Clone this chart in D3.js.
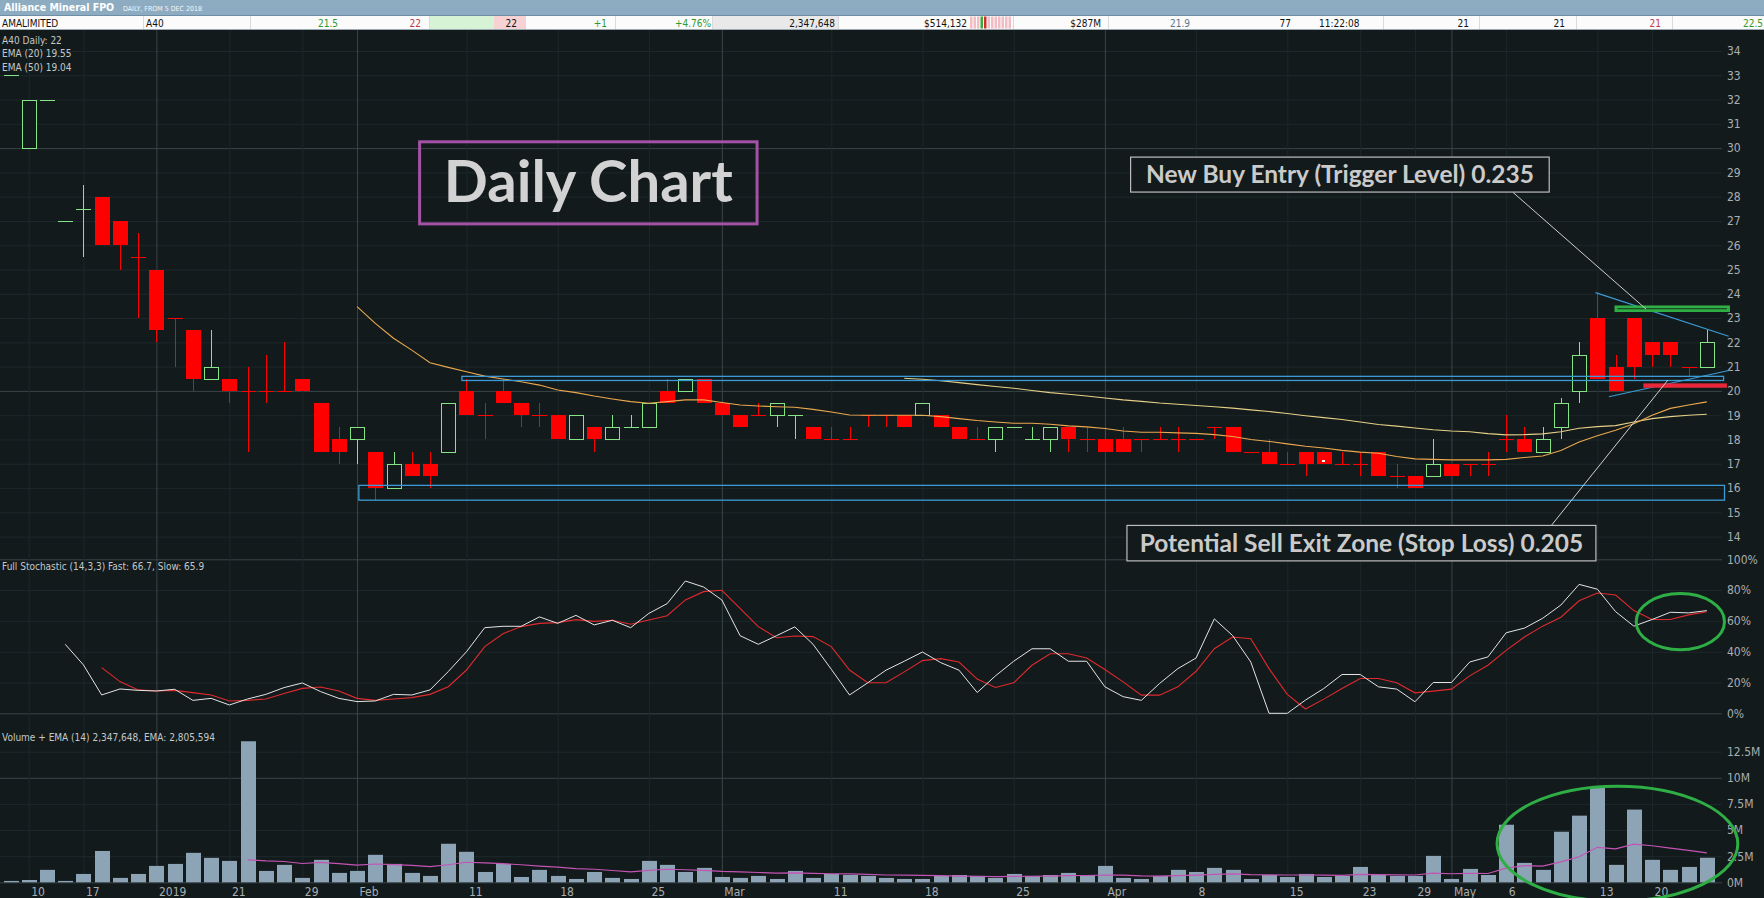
<!DOCTYPE html>
<html>
<head>
<meta charset="utf-8">
<title>Alliance Mineral FPO - Daily</title>
<script src="https://cdn.jsdelivr.net/npm/d3@7"></script>
<style>
  html, body { margin: 0; padding: 0; background: #121a1c; overflow: hidden; }
  svg { display: block; }
  text { font-family: 'DejaVu Sans Condensed', 'DejaVu Sans', sans-serif; }
</style>
</head>
<body>
<div id="chart"></div>
<script>
// bars are trading days with trades; index 0 = 7 Dec 2018 ... index 93 = 22 May 2019
const opens = [33, 30, 32, 27, 27.5, 28, 27, 25.5, 25, 23, 22.5, 20.5, 20.5, 20, 20, 20, 20.5, 19.5, 18, 18,
  17.5, 16, 17, 17, 17.5, 20, 19, 20, 19.5, 19, 19, 18, 18.5, 18, 18.5, 18.5, 20, 20, 20.5, 19.5,
  19, 19, 19, 19, 18.5, 18, 18, 19, 19, 19, 19, 19, 18.5, 18, 18, 18.5, 18, 18, 18.5, 18,
  18, 18, 18, 18, 18, 18, 18.5, 18.5, 17.5, 17.5, 17, 17.5, 17.5, 17, 17, 17.5, 16.5, 16.5, 16.5, 17,
  17, 17, 18, 18, 17.5, 18.5, 20, 23, 21, 23, 22, 22, 21, 21]
const highs = [33, 32, 32, 27, 28.5, 28, 27, 26.5, 25, 23, 22.5, 22.5, 20.5, 21, 21.5, 22, 20.5, 19.5, 18.5, 18.5,
  17.5, 17.5, 17.5, 17.5, 19.5, 20.5, 19.5, 20.5, 19.5, 19.5, 19, 19, 18.5, 19, 19, 19.5, 20.5, 20.5, 20.5, 19.5,
  19, 19.5, 19.5, 19, 18.5, 18.5, 18.5, 19, 19, 19, 19.5, 19, 18.5, 18.5, 18.5, 18.5, 18.5, 18.5, 18.5, 18.5,
  18.5, 18.5, 18, 18.5, 18.5, 18, 18.5, 18.5, 17.5, 18, 17.5, 17.5, 17.5, 17.5, 17.5, 17.5, 17, 16.5, 18, 17,
  17, 17.5, 19, 18.5, 18.5, 19.7, 22, 24, 21.5, 23, 22, 22, 21, 22.5]
const lows = [33, 30, 32, 27, 25.5, 26, 25, 23, 22, 21, 20, 20.5, 19.5, 17.5, 19.5, 20, 20, 17.5, 17, 17,
  15.5, 16, 16.5, 16, 17.5, 19, 18, 19.5, 18.5, 18.5, 18, 18, 17.5, 18, 18.5, 18.5, 19.5, 20, 19.5, 19,
  18.5, 19, 18.5, 18, 18, 18, 18, 18.5, 18.5, 18.5, 19, 18.5, 18, 18, 17.5, 18.5, 18, 17.5, 17.5, 17.5,
  17.5, 17.5, 17.5, 18, 17.5, 18, 18, 17.5, 17.5, 17, 17, 16.5, 17, 17, 16.5, 16.5, 16, 16, 16.5, 16.5,
  16.5, 16.5, 17.5, 17.5, 17.5, 18, 19.5, 20.5, 20, 20.5, 21, 21, 20.6, 21]
const closes = [33, 32, 32, 27, 27.5, 26, 26, 25.5, 22.5, 23, 20.5, 21, 20, 20, 20, 20, 20, 17.5, 17.5, 18.5,
  16, 17, 16.5, 16.5, 19.5, 19, 19, 19.5, 19, 19, 18, 19, 18, 18.5, 18.5, 19.5, 19.5, 20.5, 19.5, 19,
  18.5, 19, 19.5, 19, 18, 18, 18, 19, 19, 18.5, 19.5, 18.5, 18, 18, 18.5, 18.5, 18, 18.5, 18, 18,
  17.5, 17.5, 18, 18, 18, 18, 18.5, 17.5, 17.5, 17, 17, 17, 17, 17, 17, 16.5, 16.5, 16, 17, 16.5,
  17, 17, 18, 17.5, 18, 19.5, 21.5, 20.5, 20, 21, 21.5, 21.5, 21, 22]
// unchanged-price bars that are drawn green rather than red
const greenDoji = [0, 2, 3, 4, 34, 43, 55, 56]
const volumes = [0.13, 0.22, 1.19, 0.13, 0.8, 3.0, 0.42, 0.8, 1.57, 1.76, 2.82, 2.34, 2.05, 13.5, 1.09, 1.67, 0.42, 2.15, 0.9, 1.09,
  2.63, 1.76, 0.9, 0.61, 3.69, 2.92, 0.99, 1.76, 0.51, 1.19, 0.61, 0.32, 0.99, 0.42, 0.32, 2.05, 1.67, 0.99, 1.38, 0.51,
  0.42, 0.61, 0.32, 1.09, 0.42, 0.8, 0.7, 0.61, 0.42, 0.32, 0.32, 0.61, 0.7, 0.61, 0.42, 0.8, 0.61, 0.7, 0.9, 0.7,
  1.57, 0.42, 0.32, 0.61, 1.19, 0.99, 1.38, 1.19, 0.32, 0.7, 0.51, 0.8, 0.51, 0.61, 1.47, 0.7, 0.61, 0.61, 2.53, 0.32,
  1.28, 0.7, 5.51, 1.86, 1.19, 4.84, 6.38, 9.07, 1.67, 6.96, 2.15, 1.19, 1.47, 2.35]
const volEmaStart = 13
const volEma = [2.15, 2.05, 1.99, 1.8, 1.9, 1.78, 1.65, 1.75, 1.7, 1.62, 1.5, 1.68, 1.92, 1.85, 1.78, 1.68, 1.55,
  1.45, 1.3, 1.25, 1.13, 1.0, 1.15, 1.25, 1.2, 1.15, 1.05, 0.99, 0.94, 0.87, 0.9, 0.85, 0.82, 0.8, 0.76, 0.7,
  0.68, 0.66, 0.64, 0.6, 0.58, 0.55, 0.56, 0.58, 0.6, 0.63, 0.65, 0.7, 0.68, 0.62, 0.6, 0.64, 0.68, 0.75, 0.8,
  0.74, 0.72, 0.7, 0.7, 0.68, 0.66, 0.75, 0.74, 0.72, 0.7, 0.88, 0.82, 0.85, 0.84, 1.35, 1.6, 1.55, 1.95, 2.45,
  3.35, 3.2, 3.65, 3.5, 3.27, 3.05, 2.81]
const ema20Start = 19
const ema20 = [23.47, 22.78, 22.17, 21.68, 21.16, 20.97, 20.79, 20.61, 20.49, 20.38, 20.24, 20.04, 19.93, 19.79,
  19.67, 19.56, 19.49, 19.56, 19.63, 19.63, 19.52, 19.42, 19.38, 19.35, 19.33, 19.24, 19.13, 19.01, 19.0, 19.0,
  19.0, 19.0, 18.94, 18.86, 18.78, 18.72, 18.67, 18.67, 18.63, 18.56, 18.52, 18.45, 18.35, 18.3, 18.3, 18.27,
  18.25, 18.2, 18.12, 18.0, 17.92, 17.82, 17.72, 17.65, 17.55, 17.48, 17.43, 17.3, 17.2, 17.18, 17.16, 17.16,
  17.16, 17.18, 17.26, 17.32, 17.55, 17.9, 18.15, 18.38, 18.65, 19.0, 19.28, 19.42, 19.55]
const ema50Start = 49
const ema50 = [20.52, 20.48, 20.42, 20.34, 20.26, 20.18, 20.11, 20.02, 19.93, 19.86, 19.79, 19.71, 19.63, 19.57,
  19.5, 19.45, 19.4, 19.35, 19.29, 19.22, 19.15, 19.07, 18.98, 18.9, 18.82, 18.72, 18.62, 18.55, 18.47, 18.4,
  18.35, 18.32, 18.24, 18.19, 18.2, 18.23, 18.32, 18.46, 18.53, 18.57, 18.72, 18.86, 18.94, 19.0, 19.04]
const fastStart = 3
const stochFast = [44.8, 31.4, 11.9, 15.8, 14.9, 14.5, 15.6, 8.4, 9.7, 5.4, 9.3, 12.3, 16.7, 19.7, 14.1, 9.7, 7.6,
  8.0, 12.3, 11.9, 15.2, 27.1, 40.0, 55.6, 56.5, 56.5, 62.6, 58.4, 63.6, 57.4, 60.4, 55.6, 64.9, 71.2, 85.9, 82.0,
  73.6, 50.4, 44.8, 50.4, 56.1, 44.8, 28.6, 11.9, 19.8, 28.0, 33.8, 39.8, 32.9, 28.0, 13.5, 24.3, 33.8, 41.9, 41.9,
  33.8, 33.8, 17.2, 10.8, 8.4, 19.4, 29.0, 35.9, 61.3, 50.5, 33.3, 0, 0, 8.6, 16.1, 25.2, 25.2, 17.2, 15.7, 7.5,
  20.0, 20.0, 33.3, 36.6, 52.3, 55.3, 61.7, 70.3, 83.7, 80.6, 66.0, 56.6, 60.9, 65.6, 65.2, 66.7]
const slowStart = 5
const stochSlow = [29.7, 20.6, 15.2, 14.5, 14.9, 13.4, 11.9, 8.0, 8.4, 9.3, 12.8, 16.2, 17.1, 14.5, 9.7, 8.4, 9.3,
  10.2, 12.3, 17.3, 28.1, 43.3, 51.7, 56.3, 58.4, 58.9, 60.8, 59.7, 60.4, 57.8, 60.6, 63.4, 73.6, 79.0, 79.9, 68.2,
  56.3, 49.1, 50.2, 49.8, 43.3, 28.1, 19.8, 19.8, 26.9, 34.2, 35.5, 33.3, 22.2, 16.8, 19.8, 31.2, 38.7, 38.7, 35.9,
  28.4, 20.4, 11.8, 11.8, 17.2, 27.3, 41.9, 49.5, 48.4, 29.0, 12.3, 2.8, 9.2, 16.1, 22.6, 22.6, 19.8, 13.3, 14.4,
  15.7, 24.3, 31.2, 40.9, 49.5, 56.6, 62.4, 73.1, 78.1, 76.8, 66.7, 60.9, 60.9, 63.9, 65.9]
const tickBars = [1, 4, 8, 12, 16, 19, 25, 30, 35, 39, 45, 50, 55, 60, 65, 70, 74, 77, 79, 82, 87, 90]
const tickLabels = ['10', '17', '2019', '21', '29', 'Feb', '11', '18', '25', 'Mar', '11', '18', '25', 'Apr', '8',
  '15', '23', '29', 'May', '6', '13', '20']
const majorTicks = ['2019', 'Feb', 'Mar', 'Apr', 'May']
const priceTicks = [14, 15, 16, 17, 18, 19, 20, 21, 22, 23, 24, 25, 26, 27, 28, 29, 30, 31, 32, 33, 34]
const stochTicks = [0, 20, 40, 60, 80, 100]
const volTicks = [0, 2.5, 5, 7.5, 10, 12.5]
const legendLines = ['A40 Daily: 22', 'EMA (20) 19.55', 'EMA (50) 19.04']
const stochTitle = 'Full Stochastic (14,3,3) Fast: 66.7, Slow: 65.9'
const volTitle = 'Volume + EMA (14) 2,347,648, EMA: 2,805,594'
const quoteRow = [
  { text: 'AMALIMITED', x: 2, anchor: 'start', color: '#111' },
  { text: 'A40', x: 146, anchor: 'start', color: '#111' },
  { text: '21.5', x: 338, anchor: 'end', color: '#2f9a2f' },
  { text: '22', x: 421, anchor: 'end', color: '#c03a4a' },
  { text: '22', x: 517, anchor: 'end', color: '#111' },
  { text: '+1', x: 607, anchor: 'end', color: '#2f9a2f' },
  { text: '+4.76%', x: 711, anchor: 'end', color: '#2f9a2f' },
  { text: '2,347,648', x: 835, anchor: 'end', color: '#111' },
  { text: '$514,132', x: 967, anchor: 'end', color: '#111' },
  { text: '$287M', x: 1101, anchor: 'end', color: '#111' },
  { text: '21.9', x: 1190, anchor: 'end', color: '#5a7690' },
  { text: '77', x: 1291, anchor: 'end', color: '#111' },
  { text: '11:22:08', x: 1319, anchor: 'start', color: '#111' },
  { text: '21', x: 1469, anchor: 'end', color: '#111' },
  { text: '21', x: 1565, anchor: 'end', color: '#111' },
  { text: '21', x: 1661, anchor: 'end', color: '#c03a4a' },
  { text: '22.5', x: 1763, anchor: 'end', color: '#2f9a2f' }
]
const quoteSeparators = [143, 250, 429, 525, 615, 712, 838, 1013, 1108, 1383, 1479, 1576, 1672]
const quoteShades = [
  { x0: 429, x1: 494, fill: '#d6f3d6' },
  { x0: 494, x1: 525, fill: '#f6d2d4' },
  { x0: 712, x1: 838, fill: '#e9e9e9' }
]
const depthBars = ['p', 'p', 'p', 'g', 'r', 'p', 'p', 'p', 'p', 'p', 'p', 'p']

// drawn annotations, positioned in bar index / price units
const zones = [
  { i0: 24.75, i1: 93.92, p0: 20.43, p1: 20.6 },
  { i0: 19.1, i1: 93.97, p0: 15.5, p1: 16.11 }
]
const trendLines = [
  { i0: 86.9, p0: 24.05, i1: 94.2, p1: 22.25 },
  { i0: 87.63, p0: 19.76, i1: 94.27, p1: 20.85 }
]
const pointers = [
  { i0: 82.37, p0: 28.18, i1: 89.67, p1: 23.37 },
  { i0: 84.5, p0: 14.48, i1: 90.87, p1: 20.45 }
]
const buyLevel = { i0: 87.94, i1: 94.27, p0: 23.25, p1: 23.52 }
const stopLevel = { i0: 89.52, i1: 94.1, p0: 20.13, p1: 20.31 }
const notes = [
  { text: 'New Buy Entry (Trigger Level) 0.235', i0: 61.41, i1: 84.36, p0: 28.19, p1: 29.63 },
  { text: 'Potential Sell Exit Zone (Stop Loss) 0.205', i0: 61.21, i1: 86.92, p0: 13.0, p1: 14.46 }
]
const titleBox = { text: 'Daily Chart', i0: 22.43, i1: 40.93, p0: 26.88, p1: 30.26 }
const markers = [{ i: 72, p: 17.13 }]

const params = {
  width: 1764,
  height: 898,
  plotRight: 1722,
  top: 30,
  priceBottom: 559,
  bodyWidth: 15,
  bg: '#121a1c',
  gridDim: '#1d282b',
  gridMajor: '#3a4548',
  up: '#86e486',
  down: '#ff0000',
  axisText: '#a9aeb0'
}

function drawHeader(svg, { width }) {
  svg.append('rect').attr('width', width).attr('height', 15).attr('fill', '#8eacc1')
  svg.append('rect').attr('y', 15).attr('width', width).attr('height', 1).attr('fill', '#6d8ea6')
  svg.append('rect').attr('y', 16).attr('width', width).attr('height', 13.5).attr('fill', '#fbfbfb')
  svg.append('rect').attr('y', 29).attr('width', width).attr('height', 1).attr('fill', '#9aa9b2')

  svg.append('text')
    .attr('x', 4).attr('y', 11)
    .attr('fill', '#fff').attr('font-weight', 'bold').attr('font-size', 10.5)
    .text('Alliance Mineral FPO')
  svg.append('text')
    .attr('x', 123).attr('y', 10.5)
    .attr('fill', '#f2f6f8').attr('font-size', 7)
    .text('DAILY, FROM 5 DEC 2018')

  svg.append('g')
    .selectAll('rect')
    .data(quoteShades)
    .join('rect')
    .attr('x', d => d.x0).attr('y', 16)
    .attr('width', d => d.x1 - d.x0).attr('height', 13)
    .attr('fill', d => d.fill)

  svg.append('g')
    .selectAll('rect')
    .data(depthBars)
    .join('rect')
    .attr('x', (_, i) => 970 + i * 3.5).attr('y', 16.5)
    .attr('width', 2.5).attr('height', 12)
    .attr('fill', d => (d === 'g' ? '#3aa83a' : d === 'r' ? '#d03030' : '#f1bcc4'))

  svg.append('g')
    .attr('stroke', '#dadada')
    .selectAll('line')
    .data(quoteSeparators)
    .join('line')
    .attr('x1', d => d + 0.5).attr('x2', d => d + 0.5)
    .attr('y1', 16).attr('y2', 29)

  svg.append('g')
    .attr('font-size', 10)
    .selectAll('text')
    .data(quoteRow)
    .join('text')
    .attr('x', d => d.x).attr('y', 26.5)
    .attr('text-anchor', d => d.anchor)
    .attr('fill', d => d.color)
    .text(d => d.text)
}

function drawGrid(svg, scales, p) {
  const { x, yPrice, yStoch, yVol } = scales
  const right = g => g.select('.domain').remove()

  const gridAxis = (scale, ticks, fmt, major) => g => {
    g.call(d3.axisRight(scale).tickValues(ticks).tickSize(p.plotRight).tickPadding(5).tickFormat(fmt))
      .call(right)
    g.selectAll('.tick line').attr('stroke', d => (major.includes(d) ? p.gridMajor : p.gridDim))
    g.selectAll('.tick text').attr('fill', p.axisText).attr('font-size', 12)
  }

  svg.append('g').call(gridAxis(yPrice, priceTicks, d => d, [20, 30]))
  svg.append('g').call(gridAxis(yStoch, stochTicks, d => d + '%', [0, 100]))
  svg.append('g').call(gridAxis(yVol, volTicks, d => d + 'M', [0, 10]))

  const xAxis = g => {
    g.attr('transform', `translate(0, ${p.top})`)
      .call(d3.axisBottom(x).tickValues(tickBars).tickSize(852).tickPadding(5)
        .tickFormat((_, i) => tickLabels[i]))
      .call(right)
    g.selectAll('.tick line')
      .attr('stroke', (_, i) => (majorTicks.includes(tickLabels[i]) ? p.gridMajor : p.gridDim))
    g.selectAll('.tick text')
      .attr('fill', p.axisText).attr('font-size', 12)
      .attr('text-anchor', 'start').attr('dx', 2)
  }
  svg.append('g').call(xAxis)
}

function drawCandles(svg, scales, p) {
  const { x, yPrice } = scales
  const half = p.bodyWidth / 2
  const bars = opens.map((o, i) => ({ i, o, h: highs[i], l: lows[i], c: closes[i] }))
  const colorOf = d => (d.c > d.o || (d.c === d.o && greenDoji.includes(d.i)) ? p.up : p.down)
  const cx = d => Math.round(x(d.i)) + 0.5

  const g = svg.append('g').attr('clip-path', 'url(#price-clip)').attr('shape-rendering', 'crispEdges')

  g.append('g')
    .selectAll('line')
    .data(bars.filter(d => d.h > d.l))
    .join('line')
    .attr('x1', cx).attr('x2', cx)
    .attr('y1', d => yPrice(d.h)).attr('y2', d => yPrice(d.l))
    .attr('stroke', colorOf)

  g.append('g')
    .selectAll('line')
    .data(bars.filter(d => d.c === d.o))
    .join('line')
    .attr('x1', d => cx(d) - half).attr('x2', d => cx(d) + half)
    .attr('y1', d => Math.round(yPrice(d.c)) + 0.5).attr('y2', d => Math.round(yPrice(d.c)) + 0.5)
    .attr('stroke', colorOf)

  g.append('g')
    .selectAll('rect')
    .data(bars.filter(d => d.c < d.o))
    .join('rect')
    .attr('x', d => cx(d) - half).attr('width', p.bodyWidth)
    .attr('y', d => yPrice(d.o)).attr('height', d => yPrice(d.c) - yPrice(d.o))
    .attr('fill', p.down)

  g.append('g')
    .selectAll('rect')
    .data(bars.filter(d => d.c > d.o))
    .join('rect')
    .attr('x', d => cx(d) - half + 0.5).attr('width', p.bodyWidth - 1)
    .attr('y', d => Math.round(yPrice(d.c)) + 0.5)
    .attr('height', d => Math.round(yPrice(d.o)) - Math.round(yPrice(d.c)))
    .attr('fill', p.bg).attr('stroke', p.up)

  g.append('g')
    .selectAll('rect')
    .data(markers)
    .join('rect')
    .attr('x', d => x(d.i) - 1.5).attr('y', d => yPrice(d.p) - 1)
    .attr('width', 3).attr('height', 2)
    .attr('fill', '#fff')

  const ema = (values, start) => d3.line().x((_, i) => x(start + i)).y(d => yPrice(d))(values)
  g.append('path').attr('d', ema(ema50, ema50Start))
    .attr('fill', 'none').attr('stroke', '#e6cf86').attr('stroke-width', 1.1).attr('shape-rendering', 'auto')
  g.append('path').attr('d', ema(ema20, ema20Start))
    .attr('fill', 'none').attr('stroke', '#eba84e').attr('stroke-width', 1.1).attr('shape-rendering', 'auto')
}

function drawStochastic(svg, { x, yStoch }) {
  const line = start => d3.line().x((_, i) => x(start + i)).y(d => yStoch(d))
  svg.append('path').attr('d', line(slowStart)(stochSlow))
    .attr('fill', 'none').attr('stroke', '#e02a2e').attr('stroke-width', 1.1)
  svg.append('path').attr('d', line(fastStart)(stochFast))
    .attr('fill', 'none').attr('stroke', '#e4e4e4').attr('stroke-width', 1)
}

function drawVolume(svg, { x, yVol }, p) {
  svg.append('g')
    .attr('fill', '#8da3b6')
    .selectAll('rect')
    .data(volumes)
    .join('rect')
    .attr('x', (_, i) => Math.round(x(i)) - 7)
    .attr('width', p.bodyWidth)
    .attr('y', d => yVol(d))
    .attr('height', d => yVol(0) - yVol(d))

  svg.append('path')
    .attr('d', d3.line().x((_, i) => x(volEmaStart + i)).y(d => yVol(d))(volEma))
    .attr('fill', 'none').attr('stroke', '#c454b4').attr('stroke-width', 1.2)
}

function drawLegends(svg) {
  svg.append('g')
    .attr('fill', '#c4c8c9').attr('font-size', 10)
    .selectAll('text')
    .data(legendLines)
    .join('text')
    .attr('x', 2).attr('y', (_, i) => 44 + i * 13.3)
    .text(d => d)
  svg.append('text').attr('x', 2).attr('y', 570).attr('fill', '#c4c8c9').attr('font-size', 10).text(stochTitle)
  svg.append('text').attr('x', 2).attr('y', 741).attr('fill', '#c4c8c9').attr('font-size', 10).text(volTitle)
}

function drawAnnotations(svg, scales, p) {
  const { x, yPrice, yStoch, yVol } = scales
  const box = (g, d) =>
    g.attr('x', x(d.i0)).attr('width', x(d.i1) - x(d.i0))
      .attr('y', yPrice(d.p1)).attr('height', yPrice(d.p0) - yPrice(d.p1))

  svg.append('g')
    .selectAll('rect')
    .data(zones)
    .join('rect')
    .each(function(d) { d3.select(this).call(box, d) })
    .attr('fill', 'none').attr('stroke', '#3c9bd6').attr('stroke-width', 1.3)

  svg.append('g')
    .attr('stroke', '#3c9bd6').attr('stroke-width', 1.2)
    .selectAll('line')
    .data(trendLines)
    .join('line')
    .attr('x1', d => x(d.i0)).attr('y1', d => yPrice(d.p0))
    .attr('x2', d => x(d.i1)).attr('y2', d => yPrice(d.p1))

  svg.append('rect').call(box, buyLevel).attr('fill', '#2fae46')
  svg.append('line')
    .attr('x1', x(buyLevel.i0) + 3).attr('x2', x(buyLevel.i1) - 3)
    .attr('y1', yPrice((buyLevel.p0 + buyLevel.p1) / 2)).attr('y2', yPrice((buyLevel.p0 + buyLevel.p1) / 2))
    .attr('stroke', '#123018').attr('stroke-width', 1.2)
  svg.append('rect').call(box, stopLevel).attr('fill', '#e8283a')

  svg.append('g')
    .attr('stroke', '#cfcfcf').attr('stroke-width', 1)
    .selectAll('line')
    .data(pointers)
    .join('line')
    .attr('x1', d => x(d.i0)).attr('y1', d => yPrice(d.p0))
    .attr('x2', d => x(d.i1)).attr('y2', d => yPrice(d.p1))

  const noteG = svg.append('g')
    .selectAll('g')
    .data(notes)
    .join('g')
  noteG.append('rect')
    .each(function(d) { d3.select(this).call(box, d) })
    .attr('fill', p.bg).attr('stroke', '#bdbdbd').attr('stroke-width', 1.2)
  noteG.append('text')
    .attr('x', d => (x(d.i0) + x(d.i1)) / 2)
    .attr('y', d => (yPrice(d.p0) + yPrice(d.p1)) / 2 + 8.4)
    .attr('text-anchor', 'middle')
    .attr('fill', '#cacaca').attr('font-size', 24.5).attr('font-weight', 'bold')
    .style('font-family', 'Lato, "Open Sans", sans-serif')
    .text(d => d.text)

  svg.append('rect').call(box, titleBox)
    .attr('fill', 'none').attr('stroke', '#a452a6').attr('stroke-width', 3)
  svg.append('text')
    .attr('x', (x(titleBox.i0) + x(titleBox.i1)) / 2)
    .attr('y', (yPrice(titleBox.p0) + yPrice(titleBox.p1)) / 2 + 19)
    .attr('text-anchor', 'middle')
    .attr('fill', '#d2d2d2').attr('font-size', 58).attr('font-weight', 'bold')
    .style('font-family', 'Lato, "Open Sans", sans-serif')
    .text(titleBox.text)

  const ellipse = (cx, cy, rx, ry, ys) =>
    svg.append('ellipse')
      .attr('cx', x(cx)).attr('cy', ys(cy))
      .attr('rx', x(cx + rx) - x(cx)).attr('ry', ys(0) - ys(ry))
      .attr('fill', 'none').attr('stroke', '#2fae46').attr('stroke-width', 3)
  ellipse(91.55, 59.5, 2.42, 18.3, yStoch)
  ellipse(88.1, 3.7, 6.6, 5.5, yVol)
}

function drawChart(selector, p) {
  const svg = d3.select(selector)
    .append('svg')
    .attr('width', p.width)
    .attr('height', p.height)
    .attr('viewBox', [0, 0, p.width, p.height])

  svg.append('rect').attr('width', p.width).attr('height', p.height).attr('fill', p.bg)
  svg.append('clipPath').attr('id', 'price-clip')
    .append('rect').attr('x', 0).attr('y', p.top).attr('width', p.plotRight).attr('height', p.priceBottom - p.top)

  const scales = {
    x: d3.scaleLinear().domain([0, 93]).range([10.5, 1706.8]),
    yPrice: d3.scaleLinear().domain([14, 34]).range([536.6, 51]),
    yStoch: d3.scaleLinear().domain([0, 100]).range([713.3, 559.3]),
    yVol: d3.scaleLinear().domain([0, 12.5]).range([882.3, 751.7])
  }

  drawGrid(svg, scales, p)
  drawVolume(svg, scales, p)
  drawStochastic(svg, scales)
  drawCandles(svg, scales, p)
  drawLegends(svg)
  drawAnnotations(svg, scales, p)
  drawHeader(svg, p)
}

drawChart('#chart', params)
</script>
</body>
</html>
